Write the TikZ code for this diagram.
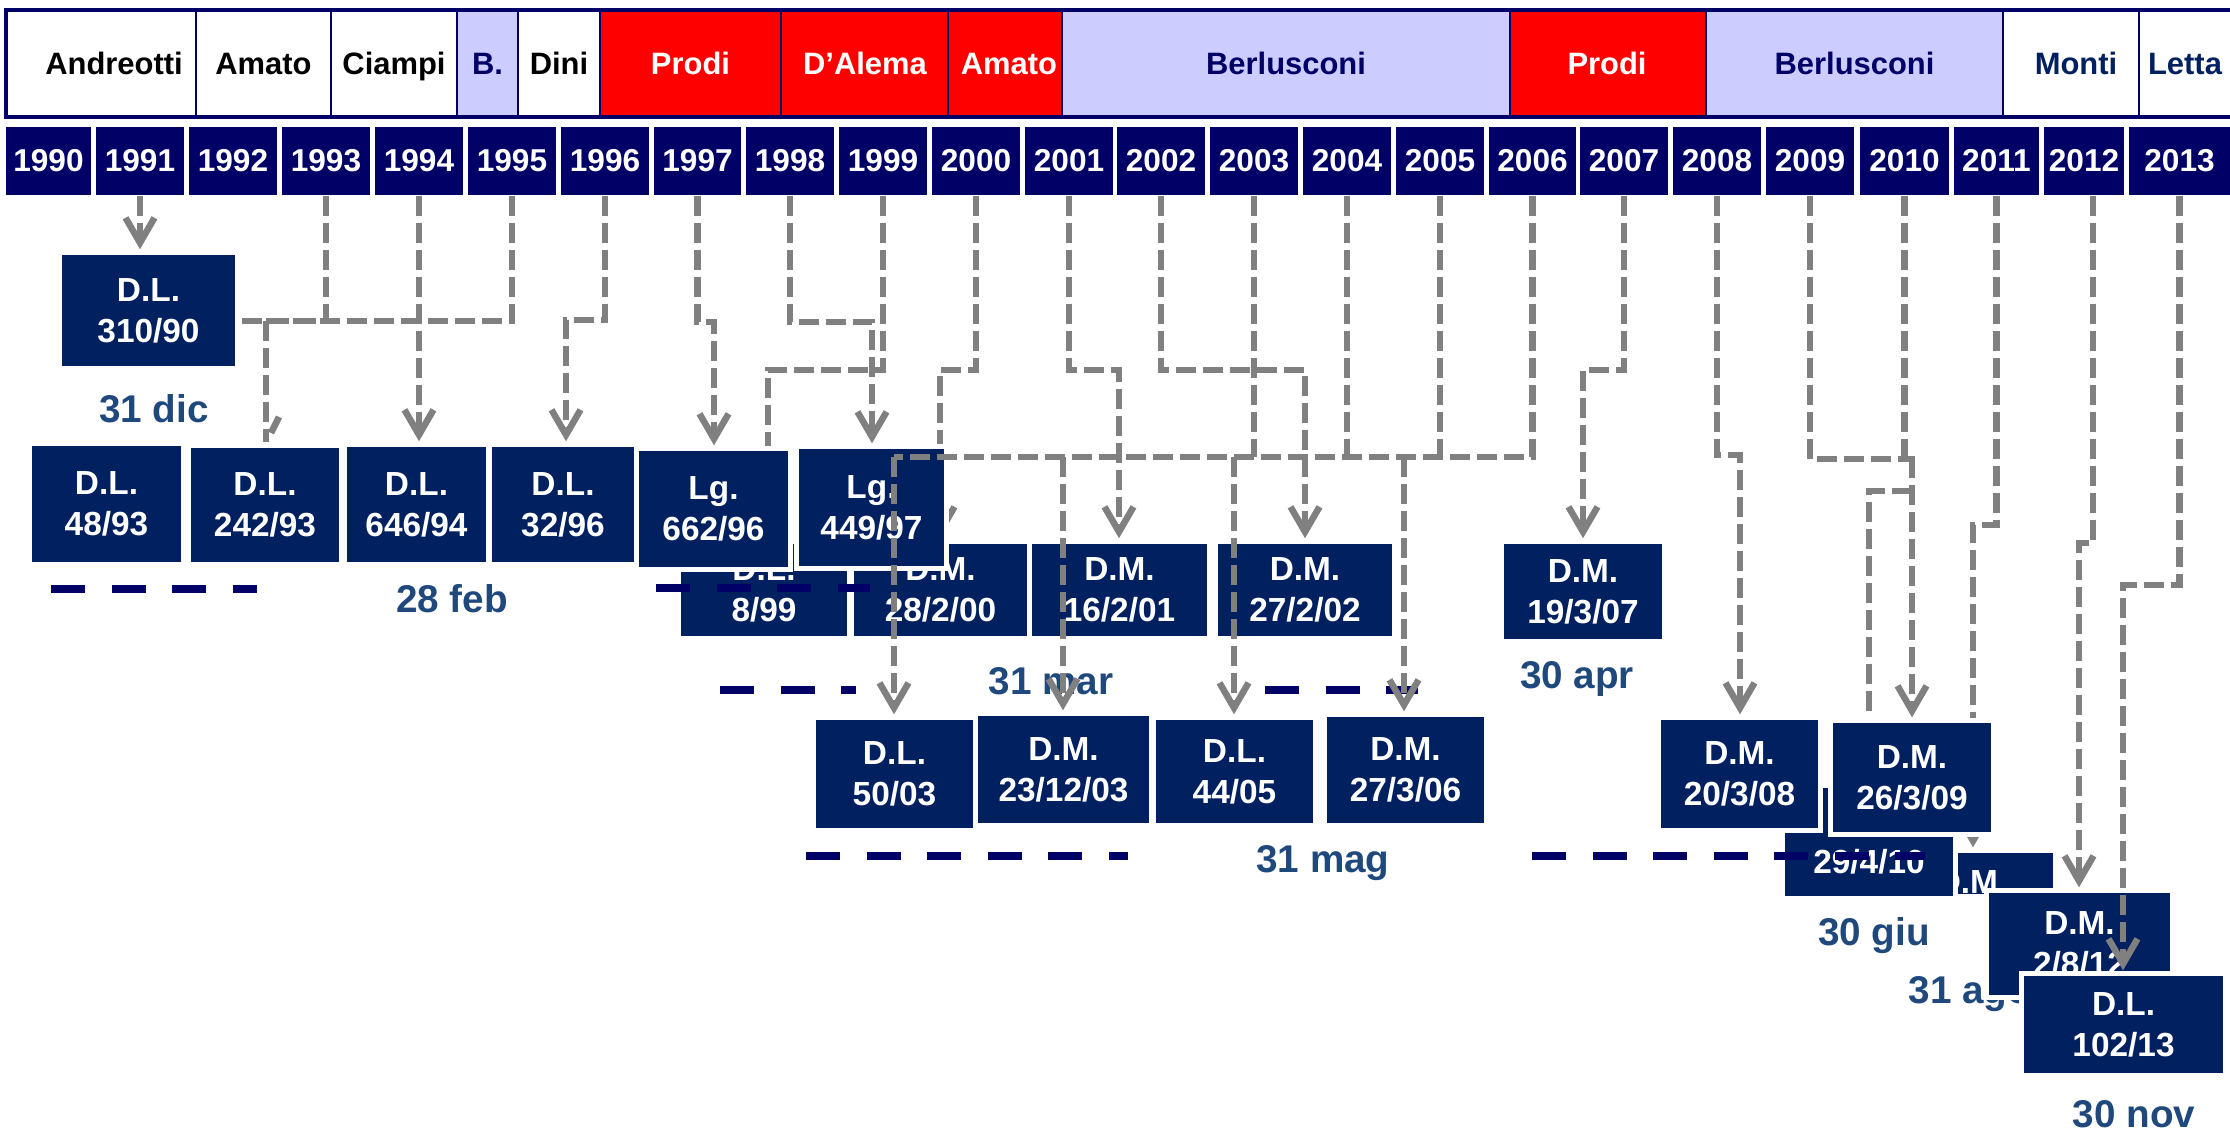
\documentclass[tikz,border=0pt]{standalone}
\usepackage{fontspec}
\setmainfont{Liberation Sans}
\usetikzlibrary{arrows.meta}
\definecolor{boxblue}{RGB}{0,32,96}
\definecolor{yearblue}{RGB}{0,0,102}
\definecolor{govlight}{RGB}{204,204,255}
\definecolor{govred}{RGB}{255,0,0}
\definecolor{linegray}{RGB}{128,128,128}
\definecolor{datecol}{RGB}{31,73,125}

% government cell: name, x1, x2, fill, text colour, text, text x
\newcommand\govcell[7]{%
  \node[govcell, fill=#4, minimum width={(#3-#2)*0.1mm}] (#1) at ({(#2+#3)/2},63.5) {};
  \node[govtext, text=#5, anchor=base] (#1-t) at (#7,74.5) {#6};}
% year cell: name, x1, x2, text
\newcommand\yrcell[4]{%
  \node[yrbox, minimum width={(#3-#2)*0.1mm}] (#1) at ({(#2+#3)/2},161) {#4};}
% decree box: name, x1, y1, x2, y2, text
\newcommand\dbx[6]{%
  \node[dbox, minimum width={(#4-#2)*0.1mm}, minimum height={(#5-#3)*0.1mm}] (#1) at ({(#2+#4)/2},{(#3+#5)/2}) {#6};}

\begin{document}
\begin{tikzpicture}[x=0.1mm,y=-0.1mm,
  govcell/.style={draw=yearblue, line width=0.25mm, minimum height=10.7mm, inner sep=0},
  govtext/.style={font=\bfseries\fontsize{8.8}{10}\selectfont, inner sep=0},
  yrbox/.style={fill=yearblue, text=white, font=\bfseries\fontsize{9}{10}\selectfont, minimum height=6.8mm, inner sep=0},
  dbox/.style={fill=boxblue, text=white, align=center, inner sep=0,
    font=\bfseries\fontsize{9.5}{11.7}\selectfont, preaction={draw=white, line width=1mm}},
  conn/.style={draw=linegray, line width=0.65mm, dash pattern=on 2mm off 0.7mm},
  arr/.style={-{Straight Barb[length=2.5mm,width=2.9mm]}, shorten >=0.5mm},
  navydash/.style={draw=yearblue, line width=0.8mm, dash pattern=on 3.4mm off 2.65mm},
  datelbl/.style={text=datecol, font=\bfseries\fontsize{11}{13}\selectfont, inner sep=0, anchor=base},
]
\useasboundingbox (0,0) rectangle (2230,1131);
\fill[white] (0,0) rectangle (2230,1131);
\clip (0,0) rectangle (2230,1131);

% ---- governments ----
\govcell{gAndreotti}{6}{196}{white}{black}{Andreotti}{114}
\govcell{gAmatoA}{196}{331}{white}{black}{Amato}{263.5}
\govcell{gCiampi}{331}{457}{white}{black}{Ciampi}{394}
\govcell{gB}{457}{518}{govlight}{yearblue}{B.}{487.5}
\govcell{gDini}{518}{600}{white}{black}{Dini}{559}
\govcell{gProdiA}{600}{781}{govred}{white}{Prodi}{690.5}
\govcell{gDAlema}{781}{948}{govred}{white}{D’Alema}{865}
\govcell{gAmatoB}{948}{1062}{govred}{white}{Amato}{1009}
\govcell{gBerlA}{1062}{1510}{govlight}{yearblue}{Berlusconi}{1286}
\govcell{gProdiB}{1510}{1706}{govred}{white}{Prodi}{1607}
\govcell{gBerlB}{1706}{2003}{govlight}{yearblue}{Berlusconi}{1854.5}
\govcell{gMonti}{2003}{2139}{white}{boxblue}{Monti}{2076}
\govcell{gLetta}{2139}{2240}{white}{boxblue}{Letta}{2185}
\draw[yearblue, line width=0.35mm] (6,10) rectangle (2240,117);

% ---- years ----
\yrcell{y1990}{6}{91}{1990}
\yrcell{y1991}{96}{184}{1991}
\yrcell{y1992}{189}{277}{1992}
\yrcell{y1993}{282}{370}{1993}
\yrcell{y1994}{375}{463}{1994}
\yrcell{y1995}{468}{556}{1995}
\yrcell{y1996}{561}{649}{1996}
\yrcell{y1997}{654}{741}{1997}
\yrcell{y1998}{746}{834}{1998}
\yrcell{y1999}{839}{927}{1999}
\yrcell{y2000}{932}{1020}{2000}
\yrcell{y2001}{1025}{1113}{2001}
\yrcell{y2002}{1117}{1205}{2002}
\yrcell{y2003}{1210}{1298}{2003}
\yrcell{y2004}{1303}{1391}{2004}
\yrcell{y2005}{1396}{1484}{2005}
\yrcell{y2006}{1489}{1576}{2006}
\yrcell{y2007}{1580}{1668}{2007}
\yrcell{y2008}{1673}{1761}{2008}
\yrcell{y2009}{1766}{1854}{2009}
\yrcell{y2010}{1860}{1949}{2010}
\yrcell{y2011}{1954}{2039}{2011}
\yrcell{y2012}{2044}{2124}{2012}
\yrcell{y2013}{2129}{2230}{2013}

% ---- decrees, left part ----
\dbx{b31090}{62}{255}{235}{366}{D.L.\\310/90}
\dbx{b4893}{32}{446}{181}{562}{D.L.\\48/93}
\dbx{b24293}{191}{448}{339}{562}{D.L.\\242/93}
\dbx{b64694}{347}{447}{486}{562}{D.L.\\646/94}
\dbx{b3296}{492}{447}{634}{562}{D.L.\\32/96}
\dbx{b899}{681}{544}{847}{636}{D.L.\\8/99}
\dbx{m28200}{854}{544}{1027}{636}{D.M.\\28/2/00}

% links running under the two laws
\coordinate (k99) at (768,370);
\draw[conn,arr] (y1999.south) |- (k99) -- (k99 |- b899.north);
\coordinate (k00) at (940,370);
\draw[conn,arr] (y2000.south) |- (k00) -- (k00 |- m28200.north);

\dbx{lg66296}{639}{451}{788}{567}{Lg.\\662/96}
\dbx{lg44997}{799}{449}{944}{566}{Lg.\\449/97}
\dbx{m16201}{1032}{544}{1207}{636}{D.M.\\16/2/01}
\dbx{m27202}{1218}{544}{1392}{636}{D.M.\\27/2/02}
\dbx{m19307}{1504}{544}{1662}{639}{D.M.\\19/3/07}
\dbx{b5003}{816}{720}{973}{828}{D.L.\\50/03}
\dbx{m231203}{978}{716}{1149}{823}{D.M.\\23/12/03}
\dbx{b4405}{1156}{720}{1313}{823}{D.L.\\44/05}
\dbx{m27306}{1327}{717}{1484}{823}{D.M.\\27/3/06}

% ---- decrees, right part ----
\begin{scope}
  \clip (1903,853) rectangle (2053,893);
  \node[dbox, minimum width=15mm, minimum height=9.7mm] (hdm) at (1978,901.5) {};
  \node[text=white, font=\bfseries\fontsize{9.5}{11.7}\selectfont, anchor=base, inner sep=0] (hdm-t) at (1972,893) {D.M.};
\end{scope}
\dbx{m29410}{1785}{788}{1953}{896}{D.M.\\29/4/10}
\coordinate (k11) at (1973,525);
\draw[conn,arr] (y2011.south) |- (k11) -- (k11 |- hdm.north);
\coordinate (k09b) at (1912,491);
\draw[conn,arr] (k09b) -| (m29410.north);
\dbx{m20308}{1661}{720}{1818}{828}{D.M.\\20/3/08}
\dbx{m26309}{1833}{723}{1991}{832}{D.M.\\26/3/09}

% ---- deadlines ----
\node[datelbl] (d1) at (154,422) {31 dic};
\node[datelbl] (d2) at (452,612) {28 feb};
\node[datelbl] (d3) at (1051,694) {31 mar};
\node[datelbl] (d4) at (1577,688) {30 apr};
\node[datelbl] (d5) at (1323,872) {31 mag};
\node[datelbl] (d6) at (1874,945) {30 giu};

% ---- period bars ----
\draw[navydash] (51,589) -- (257,589);
\draw[navydash] (656,588) -- (870,588);
\draw[navydash] (720,690) -- (856,690);
\draw[navydash] (1265,690) -- (1418,690);
\draw[navydash] (806,856) -- (1128,856);
\draw[navydash] (1532,856) -- (1925,856);

% ---- links ----
\draw[conn,arr] (y1991.south) -- (y1991.south |- b31090.north);
\coordinate (h93) at (242,321);
\draw[conn] (y1993.south) |- (h93);
\draw[conn] (y1995.south) |- (h93);
\draw[conn,arr] (y1994.south) -- (y1994.south |- b64694.north);
\coordinate (j93) at (266,321);
\coordinate (e93) at (266,442);
\draw[conn] (j93) -- (e93);
\coordinate (barbA) at (271,433);
\coordinate (barbB) at (279,417);
\draw[linegray, line width=0.65mm] (barbA) -- (barbB);
\coordinate (k96) at (566,320);
\draw[conn,arr] (y1996.south) |- (k96) -- (k96 |- b3296.north);
\coordinate (k97) at (714,322);
\draw[conn,arr] (y1997.south) |- (k97) -- (k97 |- lg66296.north);
\coordinate (k98) at (872,322);
\draw[conn,arr] (y1998.south) |- (k98) -- (k98 |- lg44997.north);
\coordinate (k01) at (1119,370);
\draw[conn,arr] (y2001.south) |- (k01) -- (k01 |- m16201.north);
\coordinate (k02) at (1305,370);
\draw[conn,arr] (y2002.south) |- (k02) -- (k02 |- m27202.north);
% shared line for 2003-2006
\coordinate (busW) at (894,457);
\draw[conn] (y2006.south) |- (busW);
\draw[conn] (y2003.south) -- (y2003.south |- busW);
\draw[conn] (y2004.south) -- (y2004.south |- busW);
\draw[conn] (y2005.south) -- (y2005.south |- busW);
\draw[conn,arr] (busW) -- (busW |- b5003.north);
\coordinate (bus2) at (1063,457);
\draw[conn,arr] (bus2) -- (bus2 |- m231203.north);
\coordinate (bus3) at (1234,457);
\draw[conn,arr] (bus3) -- (bus3 |- b4405.north);
\coordinate (bus4) at (1404,457);
\draw[conn,arr] (bus4) -- (bus4 |- m27306.north);
\coordinate (k07) at (1583,370);
\draw[conn,arr] (y2007.south) |- (k07) -- (k07 |- m19307.north);
\coordinate (k08) at (1740,455);
\draw[conn,arr] (y2008.south) |- (k08) -- (k08 |- m20308.north);
\coordinate (k09) at (1912,459);
\draw[conn] (y2009.south) |- (k09);
\draw[conn,arr] (y2010.south) |- (k09) -- (k09 |- m26309.north);

% ---- last decrees ----
\node[datelbl, anchor=base west] (d7) at (1908,1003) {31 ago};
\dbx{m2812}{1989}{893}{2170}{995}{D.M.\\2/8/12}
\coordinate (k12) at (2079,543);
\draw[conn,arr] ([xshift=0.9mm]y2012.south) |- (k12) -- (k12 |- m2812.north);
\dbx{b10213}{2024}{976}{2223}{1073}{D.L.\\102/13}
\coordinate (k13) at (2123,585);
\draw[conn,arr] (y2013.south) |- (k13) -- (k13 |- b10213.north);
\node[datelbl] (d8) at (2134,1127) {30 nov};
\end{tikzpicture}
\end{document}
